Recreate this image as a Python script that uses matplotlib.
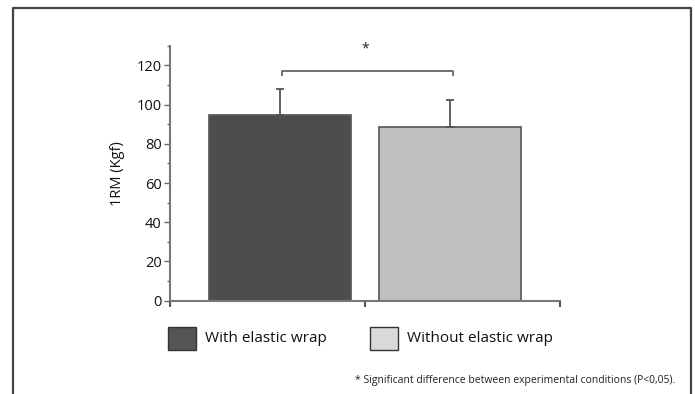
import matplotlib.pyplot as plt
from matplotlib.patches import Rectangle
from matplotlib.lines import Line2D

plt.rcParams['font.family'] = ['Open Sans', 'DejaVu Sans']

conditions = ['With elastic wrap', 'Without elastic wrap']
means = [94.8, 88.7]
sd = [13.3, 13.6]
bar_colors = ['#4d4d4d', '#c0c0c0']
legend_colors = ['#555555', '#d9d9d9']
yticks = [0, 20, 40, 60, 80, 100, 120]
bracket_y = 117
footnote = '* Significant difference between experimental conditions (P<0,05).'

fig = plt.figure(figsize=(6.95, 3.94), dpi=100)
ax = fig.add_axes([0.2446, 0.2368, 0.5612, 0.6472])

x = [0, 1]
ax.bar(x, means, width=0.83, color=bar_colors, edgecolor='#555555', linewidth=1.2, zorder=2)
ax.errorbar(x, means, yerr=[[0, 0], sd], fmt='none', ecolor='#555555',
            elinewidth=1.3, capsize=3, capthick=1.3, zorder=3)

# significance bracket
ax.plot([0.01, 0.01, 1.02, 1.02], [bracket_y - 1.8, bracket_y, bracket_y, bracket_y - 1.8],
        color='#555555', lw=1.2, clip_on=False)
ax.text(0.5, 128.5, '*', ha='center', va='center', fontsize=10, color='#222222')

ax.set_xlim(-0.647, 1.647)
ax.set_ylim(0, 130)
ax.set_yticks(yticks)
ax.set_yticks([10, 30, 50, 70, 90, 110, 130], minor=True)
ax.set_xticks([-0.647, 0.5, 1.647])
ax.set_xticklabels([])
ax.tick_params(axis='y', which='major', length=4, width=1, color='#666666',
               labelsize=10.5, labelcolor='#111111', pad=2)
ax.tick_params(axis='y', which='minor', length=2.5, width=1, color='#666666')
ax.tick_params(axis='x', length=4, width=1.5, color='#555555')
for s in ['top', 'right']:
    ax.spines[s].set_visible(False)
for s in ['left', 'bottom']:
    ax.spines[s].set_color('#777777')
    ax.spines[s].set_linewidth(1.5)
ax.set_ylabel('1RM (Kgf)', fontsize=10.5, color='#111111', labelpad=8)

# legend drawn by hand
W, H = 695, 394
lx = [168, 370]
for i, name in enumerate(conditions):
    fig.patches.append(Rectangle((lx[i] / W, (H - 350) / H), 28 / W, 23 / H,
                                 transform=fig.transFigure, facecolor=legend_colors[i],
                                 edgecolor='#333333', linewidth=1))
    fig.text((lx[i] + 37) / W, (H - 339) / H, name, ha='left', va='center',
             fontsize=11, color='#111111')

fig.text(675 / W, (H - 381) / H, footnote, ha='right', va='center', fontsize=7.5, color='#222222')

# outer frame
fig.lines.append(Line2D([13 / W, 13 / W, 691 / W, 691 / W], [0, (H - 8) / H, (H - 8) / H, 0],
                        transform=fig.transFigure, color='#444444', lw=1.6))

fig.savefig('out.png', dpi=100)
